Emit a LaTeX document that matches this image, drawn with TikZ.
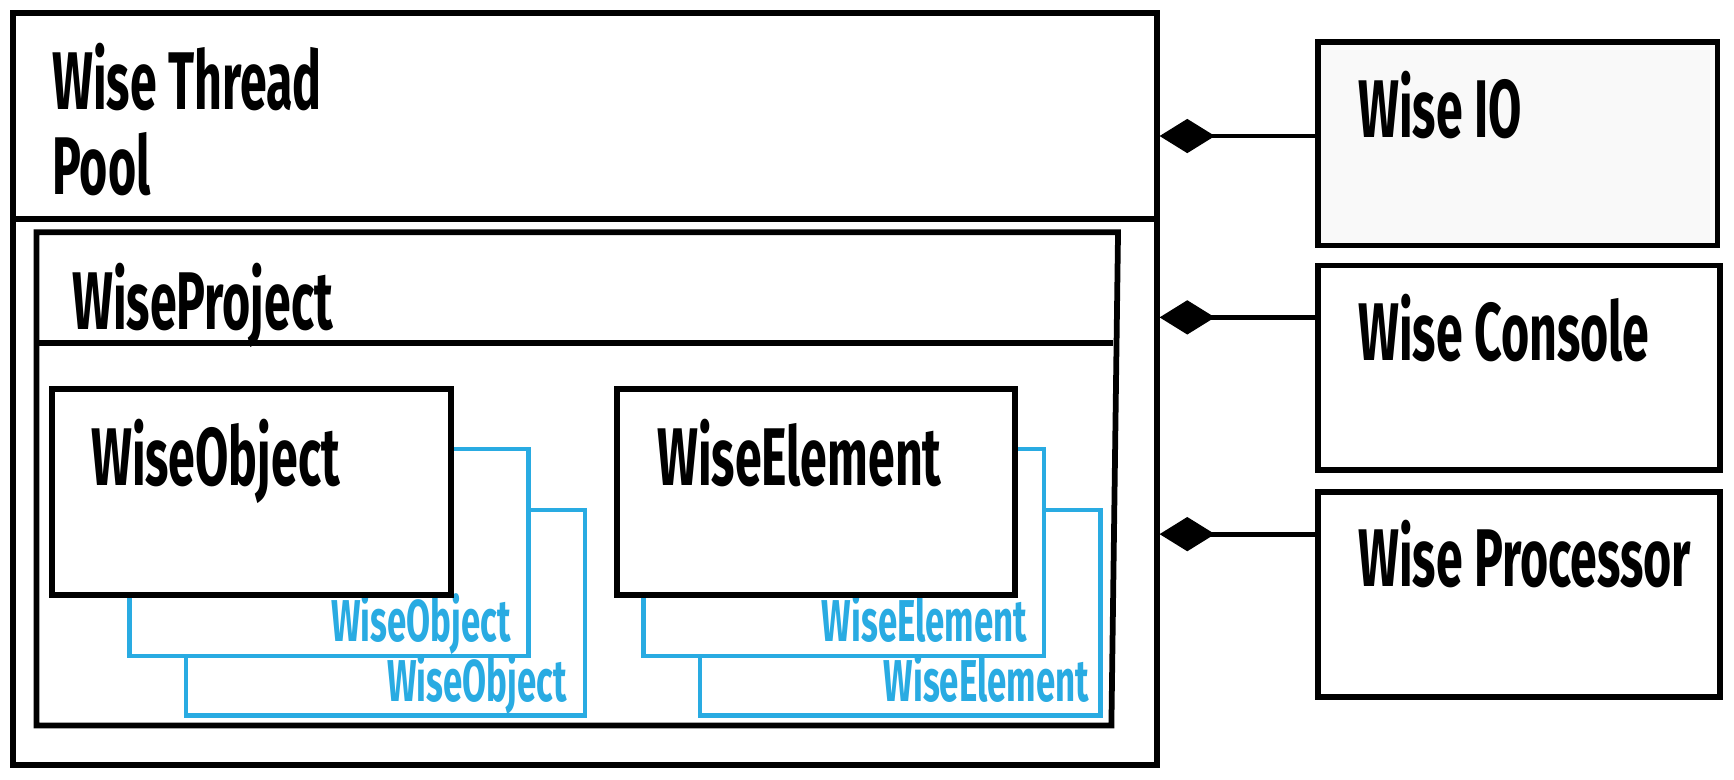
\documentclass[tikz,border=0pt]{standalone}
\usepackage{fontspec}
\newfontfamily\lbl{Fira Sans}[FakeStretch=0.59]
\usetikzlibrary{arrows.meta,fit}
\definecolor{wblue}{HTML}{29ABE2}
\definecolor{iogray}{HTML}{F9F9F9}
\begin{document}
\begin{tikzpicture}[x=0.5pt,y=-0.5pt,
  box/.style={draw=black,line width=2.6pt,inner sep=0pt,fill=white},
  bluebox/.style={draw=wblue,line width=2pt,inner sep=0pt,fill=white},
  big/.style={font=\lbl\bfseries\fontsize{37}{38.5}\selectfont,anchor=base west,inner sep=0pt},
  small/.style={font=\lbl\bfseries\fontsize{26.7}{27}\selectfont,text=wblue,anchor=base east,inner sep=0pt},
  comp/.style={line width=2.2pt,-{Diamond[length=25pt,width=15.5pt]}}
]
\useasboundingbox[fill=white] (0,0) rectangle (1568,705);

% Thread pool
\node[box,fit={(12,12)(1046,692)}] (pool) {};
\draw[line width=2.6pt] (pool.west |- 0,198) -- (pool.east |- 0,198);
\node[big] (tp1) at (47,99) {Wise Thread};
\node[big] (tp2) at (47,176) {Pool};

% WiseProject
\draw[line width=2.6pt,line join=miter] (33,210) -- (1011,210) -- (1005,656) -- (33,656) -- cycle;
\draw[line width=2.6pt] (33,310) -- (1006,310);
\node[big] (wp) at (65,298) {WiseProject};

% WiseObject stack
\node[bluebox,fit={(168,461)(529,647)}] (ob2) {};
\node[small] (ob2t) at (513,634) {WiseObject};
\node[bluebox,fit={(117,406)(478,593)}] (ob1) {};
\node[small] (ob1t) at (462,580) {WiseObject};
\node[box,fit={(47,352)(408,538)}] (obj) {};
\node[big] (objt) at (82,439) {WiseObject};

% WiseElement stack
\node[bluebox,fit={(633,461)(995,647)}] (el2) {};
\node[small] (el2t) at (985,634) {WiseElement};
\node[bluebox,fit={(582,406)(944,593)}] (el1) {};
\node[small] (el1t) at (929,580) {WiseElement};
\node[box,fit={(558,352)(918,538)}] (elem) {};
\node[big] (elemt) at (594,439) {WiseElement};

% Right-hand boxes
\node[box,fill=iogray,fit={(1192,38)(1553,222)}] (io) {};
\node[big] (iot) at (1228,124) {Wise IO};
\node[box,fit={(1192,240)(1555,425)}] (con) {};
\node[big] (cont) at (1228,326) {Wise Console};
\node[box,fit={(1192,445)(1555,630)}] (proc) {};
\node[big] (proct) at (1228,530) {Wise Processor};

% Composition connectors
\draw[comp] (io.west |- 0,123) -- (pool.east |- 0,123);
\draw[comp] (con.west |- 0,287) -- (pool.east |- 0,287);
\draw[comp] (proc.west |- 0,483) -- (pool.east |- 0,483);
\end{tikzpicture}
\end{document}
